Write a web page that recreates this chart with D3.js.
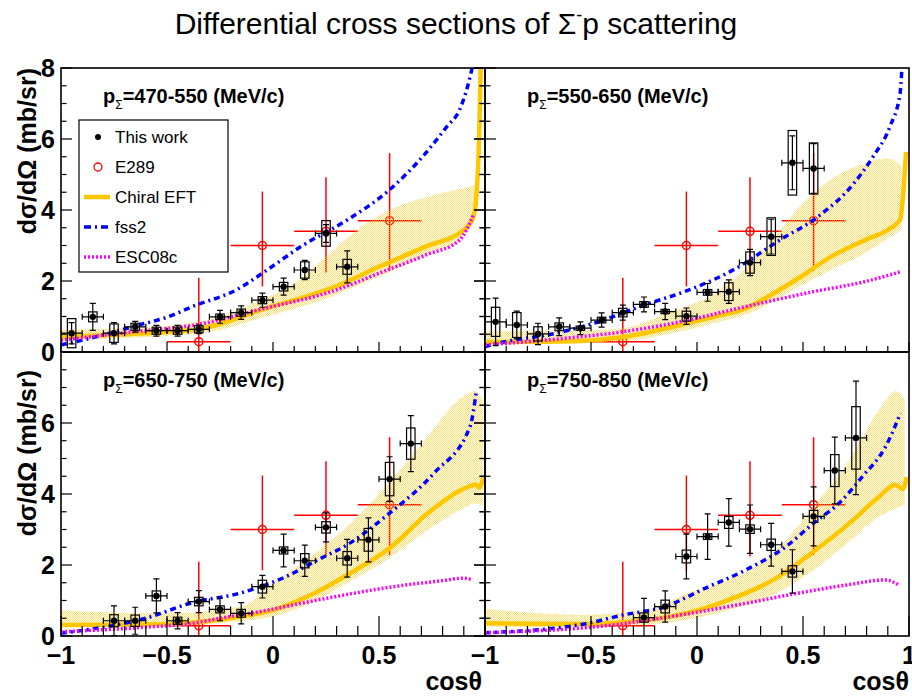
<!DOCTYPE html>
<html>
<head>
<meta charset="utf-8">
<script src="https://cdn.jsdelivr.net/npm/d3@7"></script>
<style>
body { margin: 0; background: #fff; }
text { font-family: "Liberation Sans", Arial, Helvetica, sans-serif; }
</style>
</head>
<body>
<svg id="chart" width="912" height="699"></svg>
<script>
// values
var momentumBins = ["470-550", "550-650", "650-750", "750-850"];
var legendNames = ["This work", "E289", "Chiral EFT", "fss2", "ESC08c"];

// this work: [cos, dsigma/dOmega, stat err, syst err]
var work470 = [
    [-0.95, 0.53, 0.30, 0.41], [-0.85, 0.99, 0.38, 0.14], [-0.75, 0.53, 0.30, 0.26],
    [-0.65, 0.71, 0.15, 0.10], [-0.55, 0.60, 0.15, 0.10], [-0.45, 0.60, 0.15, 0.10],
    [-0.35, 0.64, 0.12, 0.10], [-0.25, 0.99, 0.18, 0.08], [-0.15, 1.11, 0.19, 0.10],
    [-0.05, 1.46, 0.20, 0.10], [0.05, 1.84, 0.24, 0.12], [0.15, 2.31, 0.27, 0.23],
    [0.25, 3.34, 0.25, 0.36], [0.35, 2.40, 0.45, 0.21]
];
var work550 = [
    [-0.95, 0.85, 0.67, 0.41], [-0.85, 0.76, 0.39, 0.35], [-0.75, 0.51, 0.30, 0.20],
    [-0.65, 0.71, 0.25, 0.11], [-0.55, 0.67, 0.18, 0.06], [-0.45, 0.90, 0.20, 0.08],
    [-0.35, 1.11, 0.21, 0.12], [-0.25, 1.34, 0.21, 0.08], [-0.15, 1.14, 0.23, 0.06],
    [-0.05, 1.01, 0.23, 0.14], [0.05, 1.68, 0.25, 0.08], [0.15, 1.70, 0.33, 0.25],
    [0.25, 2.52, 0.37, 0.30], [0.35, 3.25, 0.49, 0.53], [0.45, 5.33, 0.76, 0.91],
    [0.55, 5.17, 0.70, 0.72]
];
var work650 = [
    [-0.75, 0.43, 0.42, 0.17], [-0.65, 0.43, 0.38, 0.16], [-0.55, 1.13, 0.48, 0.14],
    [-0.45, 0.43, 0.23, 0.10], [-0.35, 0.97, 0.31, 0.12], [-0.25, 0.75, 0.32, 0.10],
    [-0.15, 0.64, 0.30, 0.11], [-0.05, 1.39, 0.32, 0.18], [0.05, 2.41, 0.46, 0.10],
    [0.15, 2.12, 0.44, 0.20], [0.25, 3.06, 0.41, 0.16], [0.35, 2.19, 0.53, 0.19],
    [0.45, 2.71, 0.62, 0.32], [0.55, 4.42, 0.63, 0.47], [0.65, 5.42, 0.79, 0.44]
];
var work750 = [
    [-0.25, 0.52, 0.54, 0.13], [-0.15, 0.83, 0.44, 0.18], [-0.05, 2.24, 0.63, 0.18],
    [0.05, 2.80, 0.64, 0.08], [0.15, 3.20, 0.67, 0.17], [0.25, 3.01, 0.68, 0.12],
    [0.35, 2.57, 0.60, 0.16], [0.45, 1.82, 0.61, 0.16], [0.55, 3.37, 0.83, 0.17],
    [0.65, 4.66, 0.94, 0.45], [0.75, 5.58, 1.60, 0.88]
];

// E289: [cos, value, err up, err down], same in every panel
var e289 = [
    [-0.35, 0.29, 1.80, 1.80], [-0.05, 3.00, 1.52, 1.15],
    [0.25, 3.40, 1.52, 1.16], [0.55, 3.70, 1.90, 1.42]
];

// Chiral EFT central line and band [cos, low, high]
var chiral470 = [[-1, 0.42], [-0.8, 0.47], [-0.6, 0.53], [-0.49, 0.57], [-0.35, 0.65], [-0.25, 0.79],
    [-0.06, 1.18], [0.1, 1.46], [0.3, 1.86], [0.5, 2.4], [0.72, 2.97], [0.9, 3.44], [0.945, 3.8],
    [0.962, 4.6], [0.972, 6.0], [0.982, 8.6]];
var band470 = [[-1, 0.33, 0.62], [-0.75, 0.38, 0.66], [-0.5, 0.45, 0.74], [-0.25, 0.62, 1.0],
    [-0.06, 0.95, 1.46], [0.1, 1.22, 1.93], [0.25, 1.5, 2.68], [0.41, 1.9, 3.5], [0.57, 2.3, 4.05],
    [0.73, 2.75, 4.37], [0.88, 3.2, 4.6], [0.955, 3.75, 4.7]];
var chiral550 = [[-1, 0.28], [-0.55, 0.31], [-0.35, 0.42], [-0.08, 0.76], [0.08, 0.99], [0.23, 1.23],
    [0.36, 1.65], [0.49, 2.12], [0.63, 2.68], [0.79, 3.15], [0.91, 3.48], [0.958, 3.72],
    [0.973, 4.47], [0.986, 5.64]];
var band550 = [[-1, 0.24, 0.58], [-0.55, 0.27, 0.6], [-0.35, 0.3, 0.67], [-0.14, 0.5, 1.09],
    [0.08, 0.81, 1.65], [0.27, 1.15, 2.59], [0.36, 1.42, 3.2], [0.47, 1.8, 4.0], [0.63, 2.31, 4.85],
    [0.79, 2.78, 5.32], [0.9, 3.2, 5.46], [0.965, 3.44, 5.22]];
var chiral650 = [[-1, 0.31], [-0.5, 0.34], [-0.15, 0.55], [0, 0.73], [0.18, 1.16], [0.35, 1.72],
    [0.56, 2.52], [0.73, 3.46], [0.93, 4.22], [0.958, 4.27], [0.973, 4.18], [0.994, 4.5]];
var band650 = [[-1, 0.26, 0.72], [-0.5, 0.3, 0.64], [-0.15, 0.42, 0.83], [0, 0.55, 1.49],
    [0.18, 0.92, 2.24], [0.35, 1.49, 3.09], [0.56, 2.24, 4.4], [0.73, 2.99, 5.63], [0.9, 3.6, 6.76],
    [0.95, 3.74, 6.9], [0.99, 3.65, 6.66]];
var chiral750 = [[-1, 0.36], [-0.54, 0.34], [-0.24, 0.45], [-0.05, 0.64], [0.15, 1.02], [0.36, 1.58],
    [0.55, 2.38], [0.71, 3.13], [0.86, 3.93], [0.935, 4.26], [0.97, 4.14], [0.99, 4.48]];
var band750 = [[-1, 0.26, 0.77], [-0.54, 0.25, 0.6], [-0.24, 0.32, 0.73], [-0.05, 0.45, 1.2],
    [0.15, 0.73, 1.58], [0.36, 1.16, 2.33], [0.55, 1.86, 3.65], [0.71, 2.62, 4.87], [0.86, 3.37, 6.38],
    [0.94, 3.6, 6.9], [0.98, 3.7, 6.66]];

// fss2
var fss2_470 = [[-1, 0.2], [-0.84, 0.42], [-0.64, 0.75], [-0.5, 0.98], [-0.38, 1.28], [-0.16, 1.79],
    [-0.05, 2.22], [0.14, 3.0], [0.35, 3.72], [0.54, 4.52], [0.72, 5.6], [0.82, 6.35], [0.88, 6.82],
    [0.93, 7.76], [0.95, 8.3]];
var fss2_550 = [[-1, 0.15], [-0.97, 0.2], [-0.65, 0.55], [-0.45, 0.88], [-0.35, 1.1], [-0.25, 1.32],
    [-0.05, 1.72], [0.17, 2.31], [0.39, 3.15], [0.57, 3.81], [0.74, 4.75], [0.83, 5.5], [0.91, 6.35],
    [0.958, 7.29], [0.966, 7.94]];
var fss2_650 = [[-1, 0.08], [-0.75, 0.3], [-0.6, 0.5], [-0.38, 0.94], [-0.16, 1.2], [0.06, 1.67],
    [0.21, 2.14], [0.35, 2.57], [0.55, 3.46], [0.76, 4.59], [0.93, 5.91], [0.96, 6.94]];
var fss2_750 = [[-1, 0.09], [-0.54, 0.33], [-0.35, 0.59], [-0.15, 0.83], [0.04, 1.35], [0.23, 1.86],
    [0.42, 2.52], [0.55, 3.18], [0.67, 3.74], [0.78, 4.49], [0.89, 5.34], [0.96, 6.28]];

// ESC08c
var esc470 = [[-1, 0.33], [-0.69, 0.55], [-0.35, 0.78], [-0.06, 1.2], [0.3, 1.75], [0.5, 2.22],
    [0.72, 2.73], [0.88, 3.15], [0.945, 3.86]];
var esc550 = [[-1, 0.2], [-0.6, 0.4], [-0.35, 0.57], [-0.08, 0.85], [0.23, 1.28], [0.55, 1.7],
    [0.79, 1.98], [0.96, 2.26]];
var esc650 = [[-1, 0.12], [-0.6, 0.25], [-0.38, 0.36], [-0.25, 0.5], [-0.06, 0.69], [0.25, 1.06],
    [0.57, 1.39], [0.8, 1.56], [0.9, 1.63], [0.94, 1.58]];
var esc750 = [[-1, 0.09], [-0.4, 0.31], [-0.08, 0.59], [0.23, 0.92], [0.47, 1.2], [0.71, 1.44],
    [0.89, 1.58], [0.95, 1.44]];

var panels = [
    {bin: momentumBins[0], col: 0, row: 0, work: work470, chiral: chiral470, band: band470, fss2: fss2_470, esc: esc470},
    {bin: momentumBins[1], col: 1, row: 0, work: work550, chiral: chiral550, band: band550, fss2: fss2_550, esc: esc550},
    {bin: momentumBins[2], col: 0, row: 1, work: work650, chiral: chiral650, band: band650, fss2: fss2_650, esc: esc650},
    {bin: momentumBins[3], col: 1, row: 1, work: work750, chiral: chiral750, band: band750, fss2: fss2_750, esc: esc750}
];

var colX = [61, 485], colW = 424,
    rowY = [68, 352], rowH = 284;

var GOLD = "#ffc700", BLUE = "#0000ff", MAGENTA = "#ff00ff", RED = "#ff0000";

var svg = d3.select("#chart");
svg.append("rect").attr("width", 912).attr("height", 699).attr("fill", "#fff");

// fine dot pattern for the band
var defs = svg.append("defs");
var pat = defs.append("pattern")
    .attr("id", "dots")
    .attr("width", 2).attr("height", 2)
    .attr("patternUnits", "userSpaceOnUse");
pat.append("rect").attr("x", 0).attr("y", 0).attr("width", 1).attr("height", 1)
    .attr("fill", GOLD).attr("fill-opacity", 0.6);
pat.append("rect").attr("x", 1).attr("y", 1).attr("width", 1).attr("height", 1)
    .attr("fill", GOLD).attr("fill-opacity", 0.6);

function fmt(d) {
    return d < 0 ? "\u2212" + Math.abs(d) : String(d);
}

panels.forEach(function (p, i) {
    var x0 = colX[p.col], y0 = rowY[p.row];
    var x = d3.scaleLinear().domain([-1, 1]).range([x0, x0 + colW]);
    var y = d3.scaleLinear().domain([0, 8]).range([y0 + rowH, y0]);

    defs.append("clipPath").attr("id", "clip" + i)
        .append("rect").attr("x", x0).attr("y", y0).attr("width", colW).attr("height", rowH);

    var g = svg.append("g").attr("clip-path", "url(#clip" + i + ")");

    //E289 points
    var eg = g.append("g").attr("stroke", RED).attr("stroke-width", 1.5).attr("fill", "none");
    e289.forEach(function (d) {
        eg.append("line").attr("x1", x(d[0] - 0.15)).attr("x2", x(d[0] + 0.15))
            .attr("y1", y(d[1])).attr("y2", y(d[1]));
        eg.append("line").attr("x1", x(d[0])).attr("x2", x(d[0]))
            .attr("y1", y(d[1] + d[2])).attr("y2", y(d[1] - d[3]));
        eg.append("circle").attr("cx", x(d[0])).attr("cy", y(d[1])).attr("r", 4);
    });

    //chiral band
    var area = d3.area().curve(d3.curveMonotoneX)
        .x(function (d) { return x(d[0]); })
        .y0(function (d) { return y(d[1]); })
        .y1(function (d) { return y(d[2]); });
    g.append("path").datum(p.band).attr("d", area).attr("fill", "url(#dots)");

    var line = d3.line().curve(d3.curveMonotoneX)
        .x(function (d) { return x(d[0]); })
        .y(function (d) { return y(d[1]); });

    g.append("path").datum(p.chiral).attr("d", line)
        .attr("fill", "none").attr("stroke", GOLD).attr("stroke-width", 4.5);
    g.append("path").datum(p.fss2).attr("d", line)
        .attr("fill", "none").attr("stroke", BLUE).attr("stroke-width", 3.5)
        .attr("stroke-dasharray", "6,4,2,4");
    g.append("path").datum(p.esc).attr("d", line)
        .attr("fill", "none").attr("stroke", MAGENTA).attr("stroke-width", 3.5)
        .attr("stroke-dasharray", "2,2");

    //this work: syst boxes, stat bars, markers
    var wg = g.append("g").attr("stroke", "#000").attr("stroke-width", 1.2).attr("fill", "none");
    p.work.forEach(function (d) {
        wg.append("rect")
            .attr("x", x(d[0] - 0.02)).attr("y", y(d[1] + d[3]))
            .attr("width", x(d[0] + 0.02) - x(d[0] - 0.02))
            .attr("height", y(d[1] - d[3]) - y(d[1] + d[3]));
        var cx = x(d[0]), cy = y(d[1]), xl = x(d[0] - 0.05), xr = x(d[0] + 0.05),
            yt = y(d[1] + d[2]), yb = y(d[1] - d[2]);
        wg.append("path").attr("d",
            "M" + xl + "," + cy + "H" + xr +
            "M" + xl + "," + (cy - 3) + "V" + (cy + 3) +
            "M" + xr + "," + (cy - 3) + "V" + (cy + 3) +
            "M" + cx + "," + yt + "V" + yb +
            "M" + (cx - 3) + "," + yt + "H" + (cx + 3) +
            "M" + (cx - 3) + "," + yb + "H" + (cx + 3));
        wg.append("circle").attr("cx", cx).attr("cy", cy).attr("r", 3.2)
            .attr("fill", "#000").attr("stroke", "none");
    });

    //frame
    svg.append("rect").attr("x", x0).attr("y", y0).attr("width", colW).attr("height", rowH)
        .attr("fill", "none").attr("stroke", "#000").attr("stroke-width", 1.6);

    //ticks
    var tg = svg.append("g").attr("stroke", "#000").attr("stroke-width", 1.2);
    var yEdges = p.col === 0 ? [[x0, 1], [x0 + colW, -1]] : [[x0, 1], [x0, -1]];
    yEdges.forEach(function (e) {
        y.ticks(16).forEach(function (v) {
            var len = (v % 2 === 0) ? 11 : 5.5;
            tg.append("line").attr("x1", e[0]).attr("x2", e[0] + e[1] * len)
                .attr("y1", y(v)).attr("y2", y(v));
        });
    });
    var xMajor = p.row === 0 ? 10 : 20, xMinor = p.row === 0 ? 6 : 10;
    x.ticks(20).forEach(function (v) {
        var major = Math.abs(v * 2 - Math.round(v * 2)) < 1e-6;
        tg.append("line").attr("x1", x(v)).attr("x2", x(v))
            .attr("y1", y0 + rowH).attr("y2", y0 + rowH - (major ? xMajor : xMinor));
    });

    //tick labels
    if (p.col === 0) {
        var yl = p.row === 0 ? y.ticks(4) : y.ticks(4).filter(function (v) { return v < 8; });
        svg.append("g").selectAll("text").data(yl).enter().append("text")
            .attr("x", 55).attr("y", function (v) { return y(v) + 9; })
            .attr("text-anchor", "end")
            .attr("font-size", 25).attr("font-weight", "bold")
            .text(fmt);
        svg.append("text")
            .attr("transform", "translate(36," + (p.row === 0 ? 68 : 370) + ") rotate(-90)")
            .attr("text-anchor", "end")
            .attr("font-size", 25).attr("font-weight", "bold")
            .text("d\u03c3/d\u03a9 (mb/sr)");
    }
    if (p.row === 1) {
        var xl = p.col === 0 ? x.ticks(4).filter(function (v) { return v < 1; }) : x.ticks(4);
        svg.append("g").selectAll("text").data(xl).enter().append("text")
            .attr("x", function (v) { return x(v); }).attr("y", 664)
            .attr("text-anchor", "middle")
            .attr("font-size", 25).attr("font-weight", "bold")
            .text(fmt);
        svg.append("text")
            .attr("x", x0 + colW - (p.col === 0 ? 3 : 0)).attr("y", 690)
            .attr("text-anchor", "end")
            .attr("font-size", 25).attr("font-weight", "bold")
            .text("cos\u03b8");
    }

    //panel label
    var lab = svg.append("text")
        .attr("x", x0 + 42).attr("y", y0 + 35)
        .attr("font-size", 20).attr("font-weight", "bold");
    lab.append("tspan").text("p");
    lab.append("tspan").attr("dy", 6).attr("font-size", 12).attr("font-weight", "normal").text("\u03a3");
    lab.append("tspan").attr("dy", -6).text("=" + p.bin + " (MeV/c)");
});

//legend
var lg = svg.append("g");
lg.append("rect").attr("x", 79).attr("y", 120).attr("width", 149).attr("height", 152)
    .attr("fill", "#fff").attr("stroke", "#000").attr("stroke-width", 1.2);
legendNames.forEach(function (name, i) {
    var cy = 137 + i * 30;
    if (i === 0) {
        lg.append("circle").attr("cx", 98).attr("cy", cy).attr("r", 3).attr("fill", "#000");
    } else if (i === 1) {
        lg.append("circle").attr("cx", 98).attr("cy", cy).attr("r", 4)
            .attr("fill", "none").attr("stroke", RED).attr("stroke-width", 1.3);
    } else {
        var st = [[GOLD, 4.5, null], [BLUE, 3.5, "7,4,2,4"], [MAGENTA, 3.5, "2,2"]][i - 2];
        lg.append("line").attr("x1", 84).attr("x2", 110).attr("y1", cy).attr("y2", cy)
            .attr("stroke", st[0]).attr("stroke-width", st[1]).attr("stroke-dasharray", st[2]);
    }
    lg.append("text").attr("x", 115).attr("y", cy + 6)
        .attr("font-size", 17).text(name);
});

//title
var title = svg.append("text")
    .attr("x", 456).attr("y", 34)
    .attr("text-anchor", "middle")
    .attr("font-size", 30);
title.append("tspan").text("Differential cross sections of \u03a3");
title.append("tspan").attr("dy", -13).attr("font-size", 18).text("-");
title.append("tspan").attr("dy", 13).text("p scattering");
</script>
</body>
</html>
